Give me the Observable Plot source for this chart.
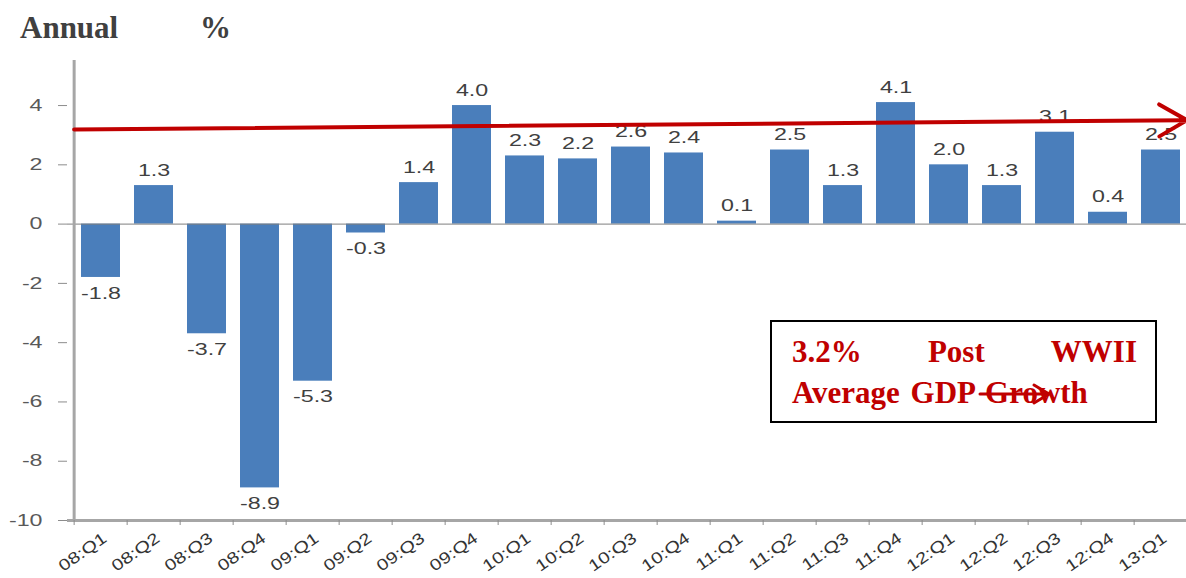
<!DOCTYPE html>
<html>
<head>
<meta charset="utf-8">
<script src="https://cdn.jsdelivr.net/npm/d3@7"></script>
<script src="https://cdn.jsdelivr.net/npm/@observablehq/plot@0.6"></script>
<style>
  html, body { margin: 0; padding: 0; background: #fff; overflow: hidden; }
  #wrap { position: relative; width: 1186px; height: 578px; }
  #title { position: relative; height: 50px; box-sizing: border-box; padding-top: 3px;
           font: bold 31px "Liberation Serif", "Times New Roman", serif; color: #404040; line-height: 50px; }
  #title span { position: absolute; top: 3px; }
  #note { position: absolute; left: 770px; top: 320px; width: 387px; height: 103px; box-sizing: border-box;
          border: 2px solid #000; background: #fff; padding: 9px 0 0 20px;
          font: bold 31px "Liberation Serif", "Times New Roman", serif; color: #c00000; }
  #note .l { height: 41px; line-height: 41px; white-space: nowrap; }
  #note .l1 { display: flex; justify-content: space-between; width: 345px; }
  #note .l2 { word-spacing: 3px; }
  #note svg { position: absolute; left: 0; top: 0; overflow: visible; }
</style>
</head>
<body>
<div id="wrap">
  <div id="title"><span style="left:20px">Annual</span><span style="left:200px">%</span></div>
  <div id="chart"></div>
  <div id="note">
    <div class="l l1"><span>3.2%</span><span>Post</span><span>WWII</span></div>
    <div class="l l2">Average GDP Growth</div>
    <svg width="387" height="103"><g stroke="#c00000" stroke-width="3" fill="none" stroke-linecap="round">
      <path d="M208,72 H276"/><path d="M262,63 L277,72 L262,81"/></g></svg>
  </div>
</div>
<script>
const quarters = ["08:Q1","08:Q2","08:Q3","08:Q4","09:Q1","09:Q2","09:Q3","09:Q4","10:Q1","10:Q2","10:Q3","10:Q4","11:Q1","11:Q2","11:Q3","11:Q4","12:Q1","12:Q2","12:Q3","12:Q4","13:Q1"];
const growth = [-1.8,1.3,-3.7,-8.9,-5.3,-0.3,1.4,4.0,2.3,2.2,2.6,2.4,0.1,2.5,1.3,4.1,2.0,1.3,3.1,0.4,2.5];
const yTicks = [-10,-8,-6,-4,-2,0,2,4];
const trendStart = 3.2;   // post-WWII average line, left end
const trendEnd = 3.5;     // right end (arrow)
const yDomain = [-10, 5.52];

const data = quarters.map((q, i) => ({q, v: growth[i]}));

const xRange = [67, 1195];
const step = (xRange[1] - xRange[0]) / quarters.length;
const labelColor = "#404040";

const chart = Plot.plot({
  width: 1186,
  height: 528,
  marginTop: 10,
  marginBottom: 58,
  marginLeft: 67,
  marginRight: 0,
  style: {fontFamily: "Liberation Sans, Arial, sans-serif", fontSize: "16px", background: "white"},
  x: {type: "band", domain: quarters, range: xRange, paddingInner: 0.255, paddingOuter: 0.1275},
  y: {domain: yDomain},
  marks: [
    Plot.barY(data, {x: "q", y: "v", fill: "#4a7ebb"}),
    Plot.ruleY([0], {stroke: "#7f7f7f", strokeWidth: 1}),
    Plot.ruleY([yDomain[0]], {stroke: "#a6a6a6", strokeWidth: 3}),
    Plot.ruleX([quarters[0]], {y1: yDomain[0], y2: yDomain[1], dx: -step / 2, stroke: "#a6a6a6", strokeWidth: 3}),
    Plot.axisY({ticks: yTicks, tickSize: 9, tickPadding: 16, tickFormat: d => String(d), stroke: "#8c8c8c", fill: "#595959", label: null}),
    Plot.axisX({tickSize: 5, tickFormat: () => "", dx: -step / 2, stroke: "#8c8c8c", label: null}),
    Plot.axisX({tickSize: 0, tickPadding: 16, dx: 4, tickRotate: -35, fontSize: 16, fill: "#333333", label: null}),
    Plot.text(data.filter(d => d.v >= 0), {x: "q", y: "v", text: d => d.v.toFixed(1), dy: -15, fill: labelColor}),
    Plot.text(data.filter(d => d.v < 0), {x: "q", y: "v", text: d => d.v.toFixed(1), dy: 16, fill: labelColor}),
    Plot.arrow([0], {
      x1: () => quarters[0], y1: () => trendStart,
      x2: () => quarters[quarters.length - 1], y2: () => trendEnd,
      stroke: "#c00000", strokeWidth: 4, headLength: 12,
      insetStart: -step / 2, insetEnd: -26
    })
  ]
});
document.getElementById("chart").appendChild(chart);

// the source chart's lettering is stretched horizontally; emulate with textLength
function stretch(sel, k) {
  chart.querySelectorAll(sel).forEach(t => {
    const L = t.getComputedTextLength();
    if (L > 0) { t.setAttribute("textLength", L * k); t.setAttribute("lengthAdjust", "spacingAndGlyphs"); }
  });
}
stretch('g[aria-label="text"] text', 1.45);
stretch('g[aria-label="y-axis tick label"] text', 1.45);
stretch('g[aria-label="x-axis tick label"] text', 1.25);
</script>
</body>
</html>
